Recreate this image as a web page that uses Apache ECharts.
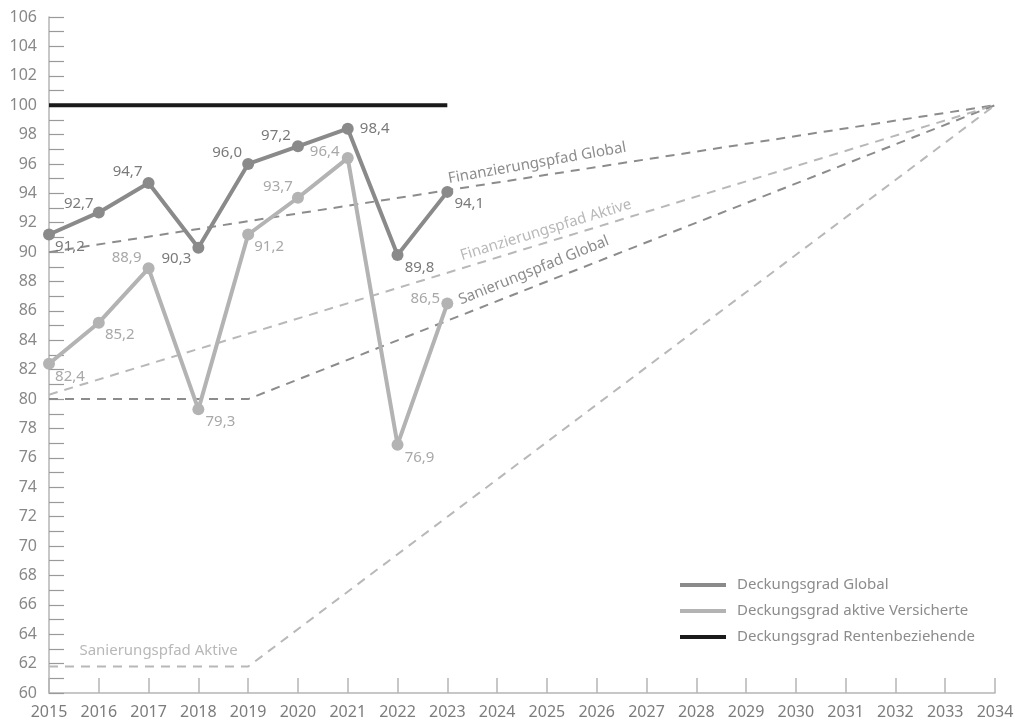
<!DOCTYPE html>
<html>
<head>
<meta charset="utf-8">
<title>Deckungsgrad</title>
<script src="https://cdn.jsdelivr.net/npm/echarts@6/dist/echarts.min.js"></script>
<style>
    html, body { margin: 0; padding: 0; background: #fff; }
    #chart { width: 1015px; height: 724px; }
</style>
</head>
<body>
<div id="chart"></div>
<script>
// Werte
const years = [2015, 2016, 2017, 2018, 2019, 2020, 2021, 2022, 2023];
const globalValues = [91.2, 92.7, 94.7, 90.3, 96.0, 97.2, 98.4, 89.8, 94.1];
const aktiveValues = [82.4, 85.2, 88.9, 79.3, 91.2, 93.7, 96.4, 76.9, 86.5];
const rentnerValues = [100, 100, 100, 100, 100, 100, 100, 100, 100];

// Pfade (gestrichelt)
const finGlobalYears = [2015, 2034];
const finGlobalValues = [90, 100];
const finAktiveYears = [2015, 2034];
const finAktiveValues = [80.3, 100];
const sanGlobalYears = [2015, 2019, 2034];
const sanGlobalValues = [80, 80, 100];
const sanAktiveYears = [2015, 2019, 2034];
const sanAktiveValues = [61.8, 61.8, 100];

// Achsen
const xMin = 2015, xMax = 2034;
const yMin = 60, yMax = 106;

// Label-Versatz (px) je Punkt
const globalLabelOffsets = [[21, 12], [-20, -9], [-21, -11], [-22, 11], [-21, -11], [-22, -11], [27, 0], [22, 13], [22, 12]];
const aktiveLabelOffsets = [[21, 13], [21, 12], [-22, -11], [22, 12], [21, 12], [-20, -11], [-23, -6], [22, 13], [-22, -5]];

const FONT = 'Noto Sans';
const C_GLOBAL = '#8a8a8a';
const C_AKTIVE = '#b3b3b3';
const C_RENTNER = '#1a1a1a';

function fmt(v) {
    return v.toFixed(1).replace('.', ',');
}

function pairs(xs, ys) {
    return xs.map(function (x, i) { return [x, ys[i]]; });
}

// Punkt auf einem Pfad (nur zum Platzieren der Pfad-Beschriftung)
function pointOn(xs, ys, x) {
    for (let i = 0; i < xs.length - 1; i++) {
        if (x >= xs[i] && x <= xs[i + 1]) {
            const t = (x - xs[i]) / (xs[i + 1] - xs[i]);
            return [x, ys[i] + t * (ys[i + 1] - ys[i])];
        }
    }
    return [x, ys[ys.length - 1]];
}

function mainSeries(name, values, offsets, color, labelColor) {
    return {
        name: name,
        type: 'line',
        z: 5,
        symbol: 'circle',
        symbolSize: 12,
        lineStyle: { color: color, width: 4 },
        itemStyle: { color: color },
        label: {
            show: true,
            position: 'inside',
            color: labelColor,
            fontFamily: FONT,
            fontSize: 15,
            formatter: function (p) { return fmt(p.value[1]); }
        },
        data: years.map(function (y, i) {
            return { value: [y, values[i]], label: { offset: offsets[i] } };
        })
    };
}

function pathSeries(name, xs, ys, color, labelX, rotate, offset) {
    return {
        name: name,
        type: 'line',
        z: 2,
        symbol: 'none',
        silent: true,
        lineStyle: { color: color, width: 2, type: [9, 7] },
        data: pairs(xs, ys),
        markPoint: {
            symbolSize: 0,
            silent: true,
            label: {
                show: true,
                position: 'inside',
                formatter: name,
                color: color,
                fontFamily: FONT,
                fontSize: 15,
                rotate: rotate,
                offset: offset
            },
            data: [{ coord: pointOn(xs, ys, labelX) }]
        }
    };
}

const chart = echarts.init(document.getElementById('chart'));

const option = {
    animation: false,
    grid: {
        left: 49,
        right: 20,
        top: 17,
        bottom: 31,
        outerBoundsMode: 'none'
    },
    legend: {
        orient: 'vertical',
        left: 675,
        top: 571,
        icon: 'rect',
        itemWidth: 46,
        itemHeight: 4,
        itemGap: 8,
        selectedMode: false,
        textStyle: {
            color: '#8c8c8c',
            fontFamily: FONT,
            fontSize: 15,
            lineHeight: 18,
            padding: [0, 0, 0, 6]
        },
        data: ['Deckungsgrad Global', 'Deckungsgrad aktive Versicherte', 'Deckungsgrad Rentenbeziehende']
    },
    xAxis: {
        type: 'value',
        min: xMin,
        max: xMax,
        interval: 1,
        axisLine: { lineStyle: { color: '#b5b5b5', width: 1.5 } },
        axisTick: { inside: true, length: 15, lineStyle: { color: '#b5b5b5', width: 1.5 } },
        splitLine: { show: false },
        axisLabel: {
            color: '#7c7c7c',
            fontFamily: FONT,
            fontSize: 16,
            margin: 11,
            formatter: function (v) { return String(v); }
        }
    },
    yAxis: {
        type: 'value',
        min: yMin,
        max: yMax,
        interval: 1,
        axisLine: { show: true, lineStyle: { color: '#b5b5b5', width: 1.5 } },
        axisTick: { show: true, inside: true, length: 15, lineStyle: { color: '#9a9a9a', width: 1.2 } },
        splitLine: { show: false },
        axisLabel: {
            color: '#888888',
            fontFamily: FONT,
            fontSize: 16,
            margin: 12,
            formatter: function (v) { return v % 2 === 0 ? String(v) : ''; }
        }
    },
    series: [
        pathSeries('Finanzierungspfad Global', finGlobalYears, finGlobalValues, '#8c8c8c', 2024.85, 10, [0, -13]),
        pathSeries('Finanzierungspfad Aktive', finAktiveYears, finAktiveValues, '#b8b8b8', 2025.05, 17, [0, -12]),
        pathSeries('Sanierungspfad Global', sanGlobalYears, sanGlobalValues, '#8c8c8c', 2024.85, 22, [0, -15]),
        pathSeries('Sanierungspfad Aktive', sanAktiveYears, sanAktiveValues, '#b8b8b8', 2017.2, 0, [0, -16]),
        {
            name: 'Deckungsgrad Rentenbeziehende',
            type: 'line',
            z: 4,
            symbol: 'none',
            lineStyle: { color: C_RENTNER, width: 4 },
            itemStyle: { color: C_RENTNER },
            data: pairs(years, rentnerValues)
        },
        mainSeries('Deckungsgrad aktive Versicherte', aktiveValues, aktiveLabelOffsets, C_AKTIVE, '#a8a8a8'),
        mainSeries('Deckungsgrad Global', globalValues, globalLabelOffsets, C_GLOBAL, '#7a7a7a')
    ]
};

chart.setOption(option);
window.addEventListener('resize', function () {
    chart.resize();
});
</script>
</body>
</html>
